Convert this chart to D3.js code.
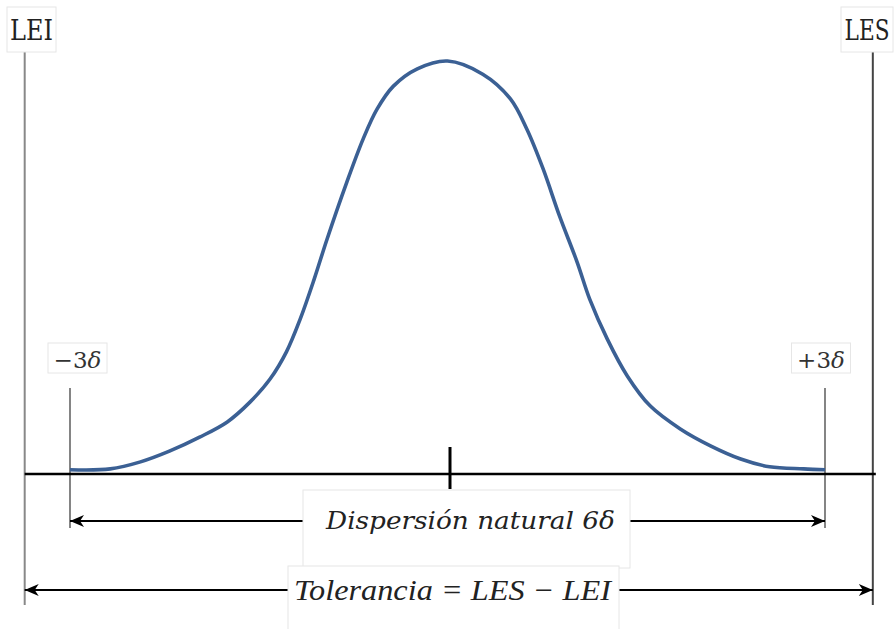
<!DOCTYPE html>
<html><head><meta charset="utf-8">
<script src="https://cdn.jsdelivr.net/npm/d3@7"></script>
<style>
html,body{margin:0;padding:0;background:#fff;}
svg{display:block;}
</style></head>
<body>
<svg id="chart" width="896" height="629"></svg>
<script>
// Curve (x in sigma units, relative height)
const curveX = [-3.0,-2.68,-2.44,-2.21,-1.97,-1.75,-1.57,-1.41,-1.28,-1.17,-1.06,-0.96,-0.80,-0.67,-0.56,-0.43,-0.24,0,
                0.28,0.50,0.63,0.76,0.89,1.03,1.13,1.27,1.43,1.61,1.85,2.09,2.33,2.56,2.83,3.0];
const curveY = [0.008,0.010,0.027,0.053,0.087,0.124,0.172,0.228,0.294,0.374,0.47,0.565,0.706,0.811,0.883,0.939,0.981,1.0,
                0.968,0.908,0.835,0.738,0.624,0.512,0.422,0.325,0.235,0.163,0.107,0.066,0.034,0.015,0.010,0.008];
const limitLabels = ["LEI","LES"];
const limitValues = [-3.36, 3.38];
const sigmaLabels = ["\u22123","+3"];
const sigmaValues = [-3, 3];
const centerValue = [0];
const spreadLabel = "Dispersión natural 6\u03B4";
const toleranceLabel = "Tolerancia = LES \u2212 LEI";

const svg = d3.select("#chart");
const x = d3.scaleLinear().domain([-3,3]).range([70,825]);
const y = d3.scaleLinear().domain([0,1]).range([474,62]);

const defs = svg.append("defs");
defs.append("marker").attr("id","arr").attr("viewBox","0 0 16 14")
  .attr("refX",15).attr("refY",7).attr("markerWidth",16).attr("markerHeight",14)
  .attr("markerUnits","userSpaceOnUse").attr("orient","auto-start-reverse")
  .append("path").attr("d","M1,1 L15,7 L1,13 L5,7 Z").attr("fill","#000");

// Limit lines LEI / LES
const lim = limitValues.map((v,i)=>({v, label:limitLabels[i]}));
svg.selectAll(".lim").data(lim).enter().append("line")
  .attr("x1",d=>x(d.v)).attr("x2",d=>x(d.v)).attr("y1",52).attr("y2",605)
  .attr("stroke",(d,i)=>i===0?"#888":"#444").attr("stroke-width",2);

// sigma lines
const sig = sigmaValues.map((v,i)=>({v,label:sigmaLabels[i]}));
svg.selectAll(".sig").data(sig).enter().append("line")
  .attr("x1",d=>x(d.v)).attr("x2",d=>x(d.v)).attr("y1",388).attr("y2",528)
  .attr("stroke","#666").attr("stroke-width",1.6);

// baseline
svg.append("line").attr("x1",x(limitValues[0])).attr("x2",x(limitValues[1])+3)
  .attr("y1",y(0)).attr("y2",y(0)).attr("stroke","#000").attr("stroke-width",2.6);

// center tick
svg.selectAll(".ctr").data(centerValue).enter().append("line")
  .attr("x1",d=>x(d)+2.5).attr("x2",d=>x(d)+2.5).attr("y1",447).attr("y2",489)
  .attr("stroke","#000").attr("stroke-width",3);

// curve
const pts = curveX.map((v,i)=>[v,curveY[i]]);
svg.append("path").datum(pts)
  .attr("d",d3.line().x(d=>x(d[0])).y(d=>y(d[1])-1).curve(d3.curveCatmullRom.alpha(0.5)))
  .attr("fill","none").attr("stroke","#3b6094").attr("stroke-width",3.6);

// Dispersion arrow
svg.append("line").attr("x1",x(-3)).attr("x2",x(3)).attr("y1",521).attr("y2",521)
  .attr("stroke","#000").attr("stroke-width",2)
  .attr("marker-start","url(#arr)").attr("marker-end","url(#arr)");
// Tolerance arrow
svg.append("line").attr("x1",x(limitValues[0])).attr("x2",x(limitValues[1])).attr("y1",590).attr("y2",590)
  .attr("stroke","#000").attr("stroke-width",2)
  .attr("marker-start","url(#arr)").attr("marker-end","url(#arr)");

// Label boxes
function box(x0,y0,w,h){
  svg.append("rect").attr("x",x0).attr("y",y0).attr("width",w).attr("height",h)
    .attr("fill","#fff").attr("stroke","#e6e6e6").attr("stroke-width",1);
}
// text squeezed to a target width via a transform (keeps the box inside the picture)
function fitText(cx, by, target, size, family, style, fill, str){
  const t = svg.append("text").attr("text-anchor","middle")
    .attr("font-family",family).attr("font-style",style).attr("font-size",size)
    .attr("fill",fill).text(str);
  const w = t.node().getComputedTextLength();
  t.attr("transform",`translate(${cx},${by}) scale(${target/w},1)`);
  return t;
}
box(303,490,327,78);
box(288,566,331,70);
fitText(470.5,529,289,25,"DejaVu Serif","italic","#222",spreadLabel);
fitText(452.5,600,317,30,"Liberation Serif","italic","#222",toleranceLabel);

// LEI/LES labels
const limBoxes = [[7,7,49,45],[841,7,52,45]];
lim.forEach((d,i)=>{
  const b = limBoxes[i];
  box(b[0],b[1],b[2],b[3]);
  fitText(b[0]+b[2]/2,40,i===0?43:45,28,"DejaVu Serif","normal","#222",d.label);
});
// sigma labels
sig.forEach((d,i)=>{
  const cx = i===0?77.5:821;
  box(cx-29.5,343,59,30);
  const t = svg.append("text").attr("x",cx).attr("y",368).attr("text-anchor","middle")
    .attr("font-family","DejaVu Serif").attr("font-size",23).attr("fill","#333");
  t.append("tspan").text(d.label);
  t.append("tspan").attr("font-style","italic").text("\u03B4");
});
</script>
</body></html>
